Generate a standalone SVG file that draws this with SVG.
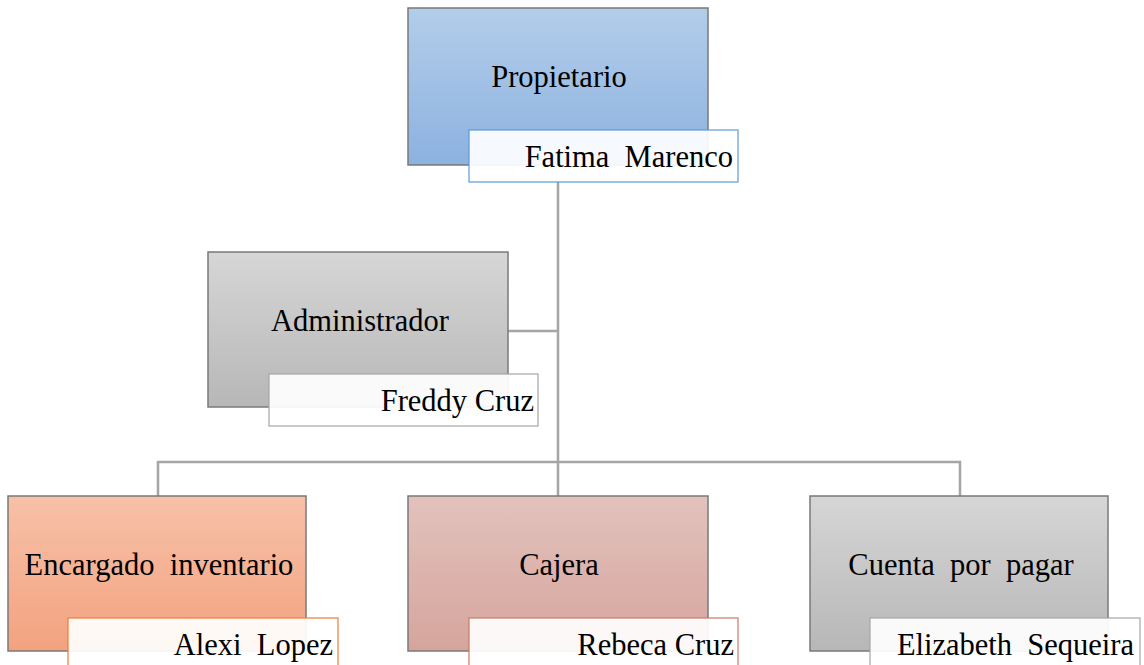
<svg xmlns="http://www.w3.org/2000/svg" width="1144" height="665" viewBox="0 0 1144 665">
<style>
.box{stroke:#7a7a7a;stroke-width:1.5}
.lbl{fill:#ffffff;fill-opacity:0.92;stroke-width:1.2}
.t{font-family:"Liberation Serif","Times New Roman",serif;font-size:30.5px;fill:#000;white-space:pre}
.c{text-anchor:middle}
.r{text-anchor:end}
.conn{stroke:#a5a5a5;stroke-width:2.5;fill:none}
</style>
<defs>
<linearGradient id="gBlue" x1="0" y1="0" x2="0" y2="1"><stop offset="0" stop-color="#b3cdea"/><stop offset="1" stop-color="#8cb2e0"/></linearGradient>
<linearGradient id="gGray" x1="0" y1="0" x2="0" y2="1"><stop offset="0" stop-color="#d6d6d6"/><stop offset="1" stop-color="#b7b7b7"/></linearGradient>
<linearGradient id="gOrange" x1="0" y1="0" x2="0" y2="1"><stop offset="0" stop-color="#f7c1a8"/><stop offset="1" stop-color="#f3a27f"/></linearGradient>
<linearGradient id="gRose" x1="0" y1="0" x2="0" y2="1"><stop offset="0" stop-color="#e3c2bd"/><stop offset="1" stop-color="#d5a59c"/></linearGradient>
</defs>
<g id="connectors">
<path class="conn" d="M558 182V462M508 331H558M158 496V462H960V496M558 462V496"/>
</g>
<g id="propietario">
<rect class="box" x="408" y="8" width="300" height="157" fill="url(#gBlue)"/>
<text class="t c" x="559" y="87">Propietario</text>
<rect class="lbl" x="469" y="130" width="269" height="52" stroke="#5b9bd5"/>
<text class="t r" x="733" y="167" xml:space="preserve">Fatima  Marenco</text>
</g>
<g id="administrador">
<rect class="box" x="208" y="252" width="300" height="155" fill="url(#gGray)"/>
<text class="t c" x="360" y="331">Administrador</text>
<rect class="lbl" x="269" y="374" width="269" height="52" stroke="#a6a6a6"/>
<text class="t r" x="534" y="411">Freddy Cruz</text>
</g>
<g id="encargado">
<rect class="box" x="8" y="496" width="298" height="155" fill="url(#gOrange)"/>
<text class="t c" x="159" y="575" xml:space="preserve">Encargado  inventario</text>
<rect class="lbl" x="68" y="618" width="270" height="60" stroke="#ed7d31"/>
<text class="t r" x="333" y="655" xml:space="preserve">Alexi  Lopez</text>
</g>
<g id="cajera">
<rect class="box" x="408" y="496" width="300" height="155" fill="url(#gRose)"/>
<text class="t c" x="559" y="575">Cajera</text>
<rect class="lbl" x="469" y="618" width="269" height="60" stroke="#c87a68"/>
<text class="t r" x="734" y="655">Rebeca Cruz</text>
</g>
<g id="cuenta">
<rect class="box" x="810" y="496" width="298" height="155" fill="url(#gGray)"/>
<text class="t c" x="961" y="575" xml:space="preserve">Cuenta  por  pagar</text>
<rect class="lbl" x="870" y="618" width="270" height="60" stroke="#a6a6a6"/>
<text class="t r" x="1134" y="655" xml:space="preserve">Elizabeth  Sequeira</text>
</g>
</svg>
